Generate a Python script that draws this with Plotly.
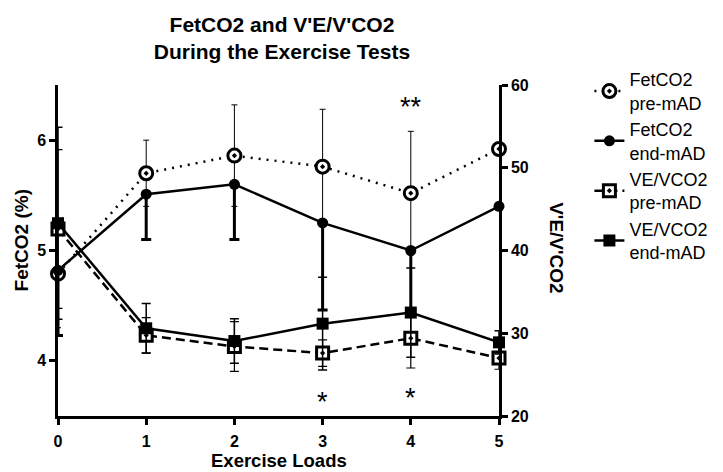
import plotly.graph_objects as go

# ---- data ----
loads = [0, 1, 2, 3, 4, 5]
fet_pre = [4.79, 5.70, 5.86, 5.76, 5.52, 5.92]
fet_pre_sd = [0.49, 0.30, 0.46, 0.52, 0.56, 0.0]
fet_end = [4.82, 5.51, 5.60, 5.25, 5.00, 5.40]
fet_end_sd = [0.59, 0.41, 0.50, 0.79, 0.53, 0.0]
ve_pre = [42.6, 29.75, 28.4, 27.6, 29.4, 27.0]
ve_pre_sd = [9.6, 2.15, 3.0, 1.6, 3.6, 1.35]
ve_end = [43.3, 30.6, 29.06, 31.16, 32.5, 28.9]
ve_end_sd = [11.6, 3.0, 2.7, 5.6, 5.4, 1.4]
x_ticks = [0, 1, 2, 3, 4, 5]
left_ticks = [4, 5, 6]
right_ticks = [20, 30, 40, 50, 60]
sig_marks = [(4, 6.35, "**"), (3, 3.675, "*"), (4, 3.705, "*")]

FONT = "Arial, Liberation Sans, sans-serif"
BLACK = "#000000"

fig = go.Figure()

fig.add_trace(go.Scatter(
    x=loads, y=fet_pre, name="FetCO2<br>pre-mAD", mode="lines+markers",
    line=dict(color=BLACK, width=2.5, dash="2px,6px"),
    marker=dict(symbol="circle-dot", size=13, color="white",
                line=dict(color=BLACK, width=3)),
    error_y=dict(type="data", array=fet_pre_sd, symmetric=True,
                 color=BLACK, thickness=1, width=3),
    cliponaxis=False, yaxis="y"))

fig.add_trace(go.Scatter(
    x=loads, y=fet_end, name="FetCO2<br>end-mAD", mode="lines+markers",
    line=dict(color=BLACK, width=2.5),
    marker=dict(symbol="circle", size=11, color=BLACK),
    error_y=dict(type="data", symmetric=False,
                 array=[0] * len(fet_end_sd), arrayminus=fet_end_sd,
                 color=BLACK, thickness=3, width=5),
    cliponaxis=False, yaxis="y"))

fig.add_trace(go.Scatter(
    x=loads, y=ve_pre, name="VE/VCO2<br>pre-mAD", mode="lines+markers",
    line=dict(color=BLACK, width=2.5, dash="9px,5px"),
    marker=dict(symbol="square-dot", size=12, color="white",
                line=dict(color=BLACK, width=3)),
    error_y=dict(type="data", array=ve_pre_sd, symmetric=True,
                 color=BLACK, thickness=1.2, width=4.5),
    cliponaxis=False, yaxis="y2"))

fig.add_trace(go.Scatter(
    x=loads, y=ve_end, name="VE/VCO2<br>end-mAD", mode="lines+markers",
    line=dict(color=BLACK, width=2.5),
    marker=dict(symbol="square", size=12, color=BLACK),
    error_y=dict(type="data", array=ve_end_sd, symmetric=True,
                 color=BLACK, thickness=1.5, width=4.5),
    cliponaxis=False, yaxis="y2"))

annotations = []
for xv, yv, txt in sig_marks:
    annotations.append(dict(x=xv, y=yv, xref="x", yref="y", text=txt,
                            showarrow=False, yanchor="middle", yshift=-5,
                            font=dict(family=FONT, size=27, color=BLACK)))

annotations.append(dict(x=-0.082, y=0.53, xref="paper", yref="paper",
                        text="FetCO2 (%)", textangle=-90, showarrow=False,
                        xanchor="center", yanchor="middle",
                        font=dict(family=FONT, size=19, color=BLACK, weight="bold")))
annotations.append(dict(x=1.1315, y=0.507, xref="paper", yref="paper",
                        text="V'E/V'CO2", textangle=90, showarrow=False,
                        xanchor="center", yanchor="middle",
                        font=dict(family=FONT, size=19, color=BLACK, weight="bold")))
annotations.append(dict(x=0.5, y=-0.134, xref="paper", yref="paper",
                        text="Exercise Loads", showarrow=False,
                        xanchor="center", yanchor="middle",
                        font=dict(family=FONT, size=18.5, color=BLACK, weight="bold")))

axis_common = dict(showgrid=False, zeroline=False, showline=True,
                   linecolor=BLACK, linewidth=2.5, ticks="outside",
                   ticklen=6, tickwidth=2.5, tickcolor=BLACK, automargin=False,
                   tickfont=dict(family=FONT, size=16, color=BLACK, weight="bold"))

fig.update_layout(
    width=723, height=472,
    margin=dict(l=58, r=224, t=85, b=56, autoexpand=False),
    paper_bgcolor="white", plot_bgcolor="white",
    font=dict(family=FONT, color=BLACK),
    title=dict(text="FetCO2 and V'E/V'CO2<br>During the Exercise Tests",
               x=0.39, xanchor="center", y=0.933, yanchor="middle",
               font=dict(family=FONT, size=21, color=BLACK, weight="bold")),
    xaxis=dict(range=[0, 5], tickvals=x_ticks, ticklabelstandoff=3,
               **axis_common),
    yaxis=dict(range=[3.5, 6.5], tickvals=left_ticks, **axis_common),
    yaxis2=dict(range=[20, 60], tickvals=right_ticks, overlaying="y",
                side="right", anchor="x", **axis_common),
    legend=dict(x=1.205, xanchor="left", y=1.072, yanchor="top",
                font=dict(family=FONT, size=18, color=BLACK),
                bgcolor="rgba(0,0,0,0)", tracegroupgap=11),
    showlegend=True,
    annotations=annotations,
)

fig.write_html("out.html")
